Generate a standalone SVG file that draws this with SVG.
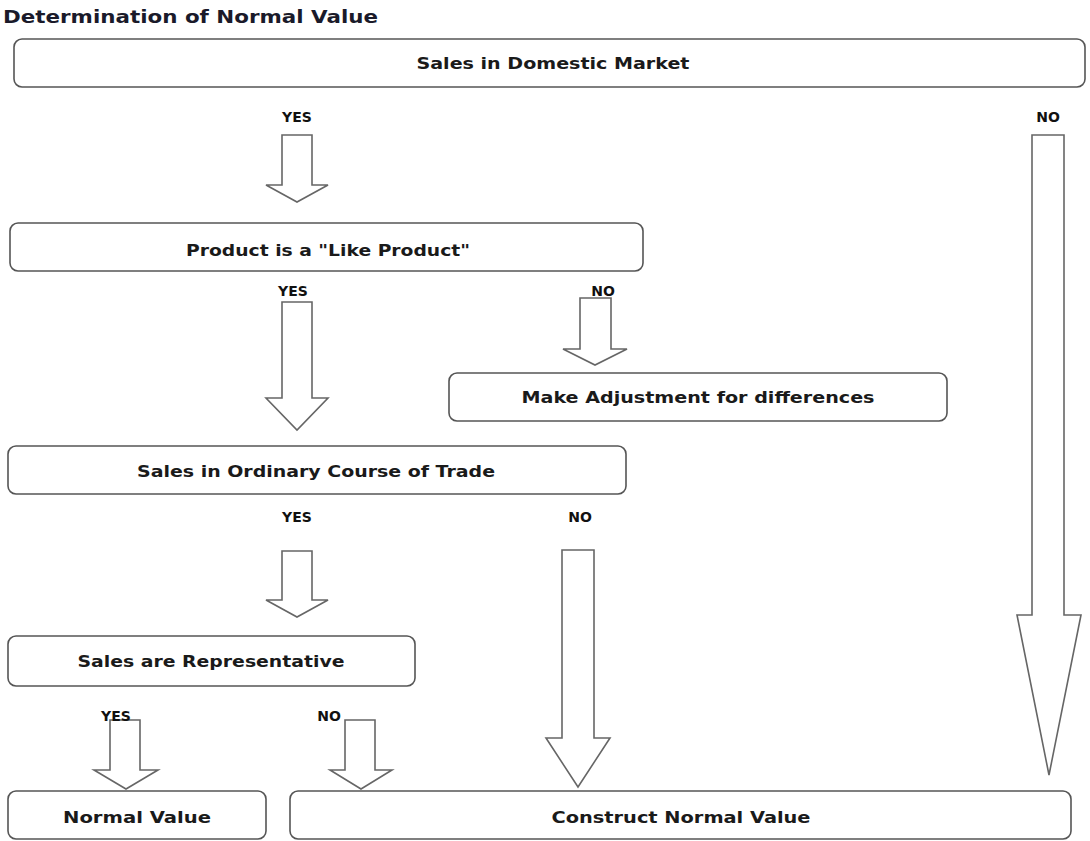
<svg xmlns="http://www.w3.org/2000/svg" width="1090" height="841" viewBox="0 0 1090 841">
<style>
.box{fill:#fff;stroke:#555;stroke-width:1.6}
.arr{fill:#fff;stroke:#666;stroke-width:1.6;stroke-linejoin:miter}
.t{font-family:"DejaVu Sans","Liberation Sans",sans-serif;font-weight:bold;font-size:16px;fill:#1a1a1a;text-anchor:middle}
.l{font-family:"DejaVu Sans","Liberation Sans",sans-serif;font-weight:bold;font-size:14px;fill:#111;text-anchor:middle}
</style>
<rect width="1090" height="841" fill="#fff"/>
<text x="3" y="23" font-family="DejaVu Sans, Liberation Sans, sans-serif" font-weight="bold" font-size="17" fill="#1a1a2a" textLength="375" lengthAdjust="spacingAndGlyphs">Determination of Normal Value</text>
<g id="connectors">
<polygon class="arr" points="282,135 312,135 312,185 328,185 297,202 266,185 282,185"/>
<polygon class="arr" points="1032,135 1064,135 1064,615 1081,615 1049,775 1017,615 1032,615"/>
<polygon class="arr" points="282,302 312,302 312,398 328,398 297,430 266,398 282,398"/>
<polygon class="arr" points="580,298 611,298 611,349 627,349 595,365 563,349 580,349"/>
<polygon class="arr" points="282,551 312,551 312,600 328,600 297,617 266,600 282,600"/>
<polygon class="arr" points="562,550 594,550 594,738 610,738 578,787 546,738 562,738"/>
<polygon class="arr" points="110,720 140,720 140,770 158,770 126,789 94,770 110,770"/>
<polygon class="arr" points="345,720 375,720 375,770 392,770 361,789 330,770 345,770"/>
<text class="l" x="297" y="122">YES</text>
<text class="l" x="1048" y="122">NO</text>
<text class="l" x="293" y="296">YES</text>
<text class="l" x="603" y="296">NO</text>
<text class="l" x="297" y="522">YES</text>
<text class="l" x="580" y="522">NO</text>
<text class="l" x="116" y="721">YES</text>
<text class="l" x="329" y="721">NO</text>
</g>
<g id="n1"><rect class="box" x="14" y="39" width="1071" height="48" rx="8"/><text class="t" x="553" y="69" textLength="273" lengthAdjust="spacingAndGlyphs">Sales in Domestic Market</text></g>
<g id="n2"><rect class="box" x="10" y="223" width="633" height="48" rx="8"/><text class="t" x="328" y="256" textLength="284" lengthAdjust="spacingAndGlyphs">Product is a "Like Product"</text></g>
<g id="n3"><rect class="box" x="449" y="373" width="498" height="48" rx="8"/><text class="t" x="698" y="403" textLength="353" lengthAdjust="spacingAndGlyphs">Make Adjustment for differences</text></g>
<g id="n4"><rect class="box" x="8" y="446" width="618" height="48" rx="8"/><text class="t" x="316" y="477" textLength="358" lengthAdjust="spacingAndGlyphs">Sales in Ordinary Course of Trade</text></g>
<g id="n5"><rect class="box" x="8" y="636" width="407" height="50" rx="8"/><text class="t" x="211" y="667" textLength="267" lengthAdjust="spacingAndGlyphs">Sales are Representative</text></g>
<g id="n6"><rect class="box" x="8" y="791" width="258" height="48" rx="8"/><text class="t" x="137" y="823" textLength="148" lengthAdjust="spacingAndGlyphs">Normal Value</text></g>
<g id="n7"><rect class="box" x="290" y="791" width="781" height="48" rx="8"/><text class="t" x="681" y="823" textLength="259" lengthAdjust="spacingAndGlyphs">Construct Normal Value</text></g>
</svg>
